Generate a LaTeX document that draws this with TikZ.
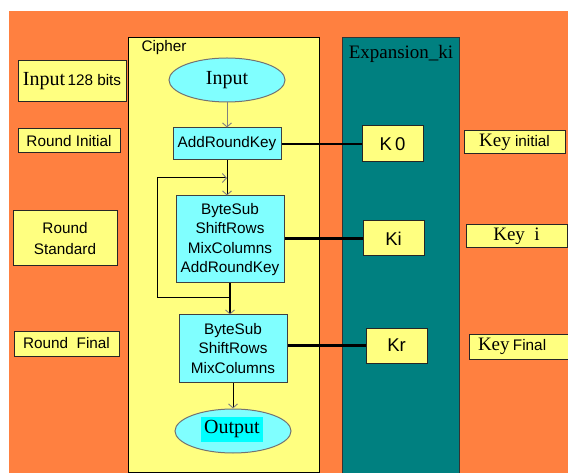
\documentclass[tikz,border=0pt]{standalone}
\usepackage{fontspec}
\setmainfont{Liberation Serif}
\setsansfont{Liberation Sans}
\usetikzlibrary{arrows.meta,shapes.geometric}
\definecolor{bgorange}{HTML}{FF8040}
\definecolor{ybox}{HTML}{FFFF80}
\definecolor{cbox}{HTML}{80FFFF}
\definecolor{tealbox}{HTML}{008080}
\definecolor{hicyan}{HTML}{00FFFF}
\newcommand{\sfs}{\sffamily\fontsize{15.3}{19.5}\selectfont}
\newcommand{\srf}{\rmfamily\fontsize{20}{22}\selectfont}
\tikzset{
  ybx/.style={draw=black!85, line width=1pt, fill=ybox, inner sep=0pt, align=center},
  cbx/.style={draw=black!75, line width=1pt, fill=cbox, inner sep=0pt, align=center, font=\sfs},
  ell/.style={ellipse, draw=black!55, line width=1pt, fill=cbox, inner sep=0pt},
  thinln/.style={line width=1pt, draw=black},
  thickln/.style={line width=2.6pt, draw=black},
  tip/.style={-{Straight Barb[length=4pt,width=9pt,line width=0.9pt,color=black!50]}},
}
\begin{document}
\begin{tikzpicture}[x=1pt,y=-1pt]
\useasboundingbox (0,0) rectangle (568,473);
\clip (0,0) rectangle (568,473);
\fill[white] (0,0) rectangle (568,473);
\fill[bgorange] (9,11) rectangle (570,475);
% panels
\node[draw=black, line width=1pt, fill=ybox, minimum width=191pt, minimum height=434pt, inner sep=0pt] (cipher) at (223.5,255) {};
\node[font=\sfs, anchor=west] (ciphert) at (138,48) {Cipher};
\node[draw=black!80, line width=1pt, fill=tealbox, minimum width=117pt, minimum height=440pt, inner sep=0pt] (exp) at (400.5,258) {};
\node[font=\rmfamily\fontsize{19}{21}\selectfont] (expt) at (401,54) {Expansion\_ki};
% cipher flow
\node[ell, minimum width=116pt, minimum height=44pt, font=\srf] (input) at (227,80) {Input};
\node[cbx, minimum width=108pt, minimum height=32pt] (ark) at (227,144) {AddRoundKey};
\node[cbx, minimum width=108pt, minimum height=87pt] (bs1) at (230,239.5) {ByteSub\\ShiftRows\\MixColumns\\AddRoundKey};
\node[cbx, minimum width=108pt, minimum height=67pt] (bs2) at (233,348.5) {ByteSub\\ShiftRows\\MixColumns};
\node[ell, minimum width=116pt, minimum height=44pt] (output) at (233,431) {};
\node[fill=hicyan, inner sep=0pt, minimum width=62pt, minimum height=25pt, font=\srf] (outt) at (232,429.5) {Output};
% keys
\node[ybx, minimum width=61pt, minimum height=36pt, font=\sffamily\fontsize{18.5}{20}\selectfont] (k0) at (392.5,144) {K\,0};
\node[ybx, minimum width=61pt, minimum height=35pt, font=\sffamily\fontsize{18.5}{20}\selectfont] (ki) at (393.5,238.5) {Ki};
\node[ybx, minimum width=61pt, minimum height=35pt, font=\sffamily\fontsize{18.5}{20}\selectfont] (kr) at (396.5,345.5) {Kr};
% left labels
\node[ybx, minimum width=108pt, minimum height=41pt] (in128) at (72,81.5) {{\srf Input} {\sfs 128 bits}};
\node[ybx, minimum width=102pt, minimum height=24pt, font=\sfs] (rinit) at (69,141) {Round Initial};
\node[ybx, minimum width=104pt, minimum height=55pt, font=\sfs\fontsize{15.3}{21}\selectfont] (rstd) at (65,238.5) {Round\\Standard};
\node[ybx, minimum width=105pt, minimum height=25pt, font=\sfs] (rfin) at (66.5,343.5) {Round\ \ Final};
% right labels
\node[ybx, minimum width=101pt, minimum height=23pt] (keyinit) at (514.5,142.5) {{\rmfamily\fontsize{19}{20}\selectfont Key}{\sfs\ initial}};
\node[ybx, minimum width=101pt, minimum height=23pt] (keyi) at (516.5,236.5) {{\rmfamily\fontsize{19}{20}\selectfont Key\ \ i}};
\node[ybx, minimum width=105pt, minimum height=25pt, text width=99pt, align=left] (keyfin) at (521.5,346.5) {\hspace*{6pt}{\rmfamily\fontsize{19}{20}\selectfont Key}{\sfs\ Final}};
% connectors
\coordinate (jb) at (230,298);
\coordinate (lb) at (157,298);
\coordinate (lt) at (157,178);
\draw[line width=1pt, draw=black!50, tip] (input.south) -- (ark.north);
\draw[thinln, tip] (ark.south) -- (ark.south |- bs1.north);
\draw[thinln, tip] (jb) -- (lb) -- (lt) -- (lt -| ark.south);
\draw[thickln] (bs1.south) -- (jb);
\draw[thickln, tip] (jb) -- (jb |- bs2.north);
\draw[thinln, tip] (bs2.south) -- (output.north);
\draw[thickln] (ark.east) -- (k0.west);
\draw[thickln] (ki.west -| bs1.east) -- (ki.west);
\draw[thickln] (kr.west -| bs2.east) -- (kr.west);
\end{tikzpicture}
\end{document}
